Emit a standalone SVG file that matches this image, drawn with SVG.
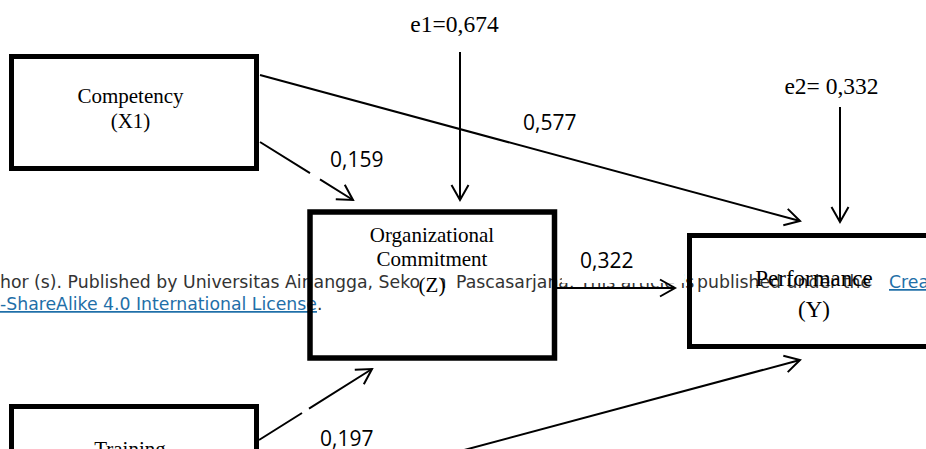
<svg xmlns="http://www.w3.org/2000/svg" width="926" height="449" viewBox="0 0 926 449">
<style>
.box{fill:none;stroke:#000;stroke-width:5}
.nl{font-family:"Liberation Serif","Times New Roman",serif;font-size:21px;fill:#000;text-anchor:middle}
.el{font-family:"Liberation Serif","Times New Roman",serif;font-size:23.5px;fill:#000;text-anchor:middle}
.cl{font-family:"Open Sans","Liberation Sans",sans-serif;font-size:21px;fill:#000}
.conn{fill:none;stroke:#000;stroke-width:2;marker-end:url(#arr)}
.pg{font-family:"DejaVu Sans",sans-serif;font-size:17.3px;fill:#333}
.lk{fill:#1f6fa8;text-decoration:underline}
.cover{fill:#fff;stroke:none}
</style>
<defs>
<marker id="arr" markerUnits="userSpaceOnUse" orient="auto" overflow="visible" markerWidth="1" markerHeight="1" refX="0" refY="0">
<path d="M-15,-8.5 L0,0 L-15,8.5" fill="none" stroke="#000" stroke-width="2"/>
</marker>
</defs>
<rect width="926" height="449" fill="#fff"/>
<g id="page-text">
<text class="pg" y="288"><tspan x="0">hor (s). Published by Universitas Airlangga, Sekolah </tspan><tspan x="456">Pascasarjana. This article is </tspan><tspan x="697">published under the </tspan><tspan x="889" class="lk">Crea</tspan></text>
<text class="pg" y="310"><tspan x="0" class="lk">-ShareAlike 4.0 International License</tspan><tspan>.</tspan></text>
<rect class="cover" x="420" y="271" width="21" height="26"/>
<rect class="cover" x="562" y="246" width="122" height="37"/>
</g>
<g id="competency">
<rect class="box" x="11.5" y="56.5" width="245" height="112"/>
<text class="nl" x="130.5" y="103">Competency</text>
<text class="nl" x="130.5" y="128">(X1)</text>
</g>
<g id="training">
<rect class="box" x="11.5" y="406.5" width="245" height="115"/>
<text class="nl" x="130" y="456">Training</text>
</g>
<g id="organizational-commitment">
<rect class="box" x="310" y="212" width="244.5" height="146" style="stroke-width:5.5"/>
<text class="nl" x="432" y="242">Organizational</text>
<text class="nl" x="432" y="266">Commitment</text>
<text class="nl" x="432" y="292">(Z)</text>
</g>
<g id="performance">
<rect class="box" x="689.5" y="235.5" width="260" height="111"/>
<text class="nl" x="814" y="286" style="font-size:23px">Performance</text>
<text class="nl" x="814" y="317" style="font-size:23px">(Y)</text>
</g>
<g id="e1"><text class="el" x="454.5" y="32">e1=0,674</text></g>
<g id="e2"><text class="el" x="831.5" y="94">e2= 0,332</text></g>
<g id="connectors">
<path class="conn" d="M260,75 L800,221"/>
<path class="conn" d="M260,142 L310,173.2 M320,179.4 L353,200"/>
<path class="conn" d="M460,52 L460,200"/>
<path class="conn" d="M840,107 L840,222"/>
<path class="conn" d="M557,288 L675,288"/>
<path class="conn" d="M259,440 L302,413 M309,408.6 L372,369"/>
<path class="conn" d="M259,505 L800,360"/>
</g>
<g id="labels">
<text class="cl" x="330" y="167">0,159</text>
<text class="cl" x="523" y="130">0,577</text>
<text class="cl" x="580" y="268">0,322</text>
<text class="cl" x="320" y="446">0,197</text>
</g>
</svg>
